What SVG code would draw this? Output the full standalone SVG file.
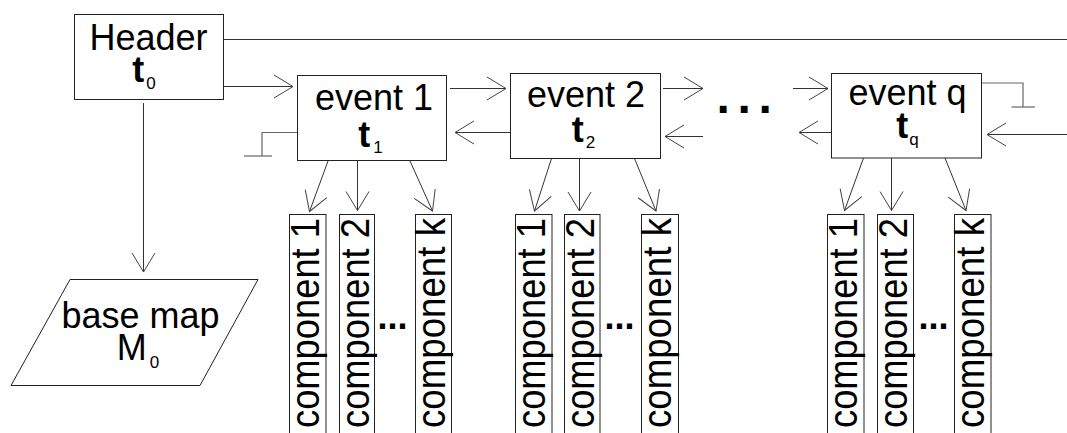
<svg xmlns="http://www.w3.org/2000/svg" width="1067" height="433" viewBox="0 0 1067 433">
<style>
.box{fill:#fff;stroke:#222;stroke-width:1}
.ln{fill:none;stroke:#333;stroke-width:1}
.gnd{fill:none;stroke:#666;stroke-width:1.2}
.t{font-family:"Liberation Sans",Arial,sans-serif;fill:#000}
.big{font-size:36px}
.sub{font-size:17px;font-weight:normal}
.comp{font-family:"Liberation Sans",Arial,sans-serif;font-size:37px;fill:#000}
.dots{font-family:"Liberation Sans",Arial,sans-serif;font-weight:bold;fill:#000}
</style>
<defs>
<marker id="ah" viewBox="-21 -13 23 26" refX="0" refY="0" markerWidth="23" markerHeight="26" markerUnits="userSpaceOnUse" orient="auto">
<path d="M-19,-11.5 L0,0 L-19,11.5" fill="none" stroke="#444" stroke-width="1"/>
</marker>
</defs>
<rect width="1067" height="433" fill="#fff"/>

<g id="connectors">
<line class="ln" x1="223" y1="39.5" x2="1067" y2="39.5"/>
<line class="ln" x1="223" y1="86.5" x2="293" y2="86.5" marker-end="url(#ah)"/>
<line class="ln" x1="143.5" y1="103" x2="143.5" y2="272" marker-end="url(#ah)"/>
<line class="ln" x1="450" y1="88.5" x2="506" y2="88.5" marker-end="url(#ah)"/>
<line class="ln" x1="510" y1="132.5" x2="455" y2="132.5" marker-end="url(#ah)"/>
<line class="ln" x1="663" y1="88.5" x2="703" y2="88.5" marker-end="url(#ah)"/>
<line class="ln" x1="703" y1="136.5" x2="665" y2="136.5" marker-end="url(#ah)"/>
<line class="ln" x1="793" y1="88.5" x2="828" y2="88.5" marker-end="url(#ah)"/>
<line class="ln" x1="831" y1="132.5" x2="799" y2="132.5" marker-end="url(#ah)"/>
<line class="ln" x1="1067" y1="134.5" x2="987" y2="134.5" marker-end="url(#ah)"/>
<polyline class="gnd" points="297.5,132.5 262,132.5 262,156"/>
<line class="gnd" x1="244" y1="156" x2="272" y2="156"/>
<polyline class="gnd" points="982,83 1023,83 1023,107"/>
<line class="gnd" x1="1011.5" y1="107" x2="1035" y2="107"/>
<line class="ln" x1="328" y1="161" x2="309.5" y2="211.5" marker-end="url(#ah)"/>
<line class="ln" x1="357.5" y1="161" x2="357.5" y2="210.5" marker-end="url(#ah)"/>
<line class="ln" x1="410" y1="161" x2="432.5" y2="211" marker-end="url(#ah)"/>
<line class="ln" x1="551.5" y1="158.5" x2="534.5" y2="211" marker-end="url(#ah)"/>
<line class="ln" x1="579.5" y1="158.5" x2="579.5" y2="211" marker-end="url(#ah)"/>
<line class="ln" x1="634.5" y1="158.5" x2="656" y2="211" marker-end="url(#ah)"/>
<line class="ln" x1="863.5" y1="158" x2="844.5" y2="210.5" marker-end="url(#ah)"/>
<line class="ln" x1="891.5" y1="158" x2="891.5" y2="210.5" marker-end="url(#ah)"/>
<line class="ln" x1="945" y1="158" x2="966" y2="210.5" marker-end="url(#ah)"/>
</g>

<g id="header">
<rect class="box" x="74.5" y="14.5" width="149" height="85"/>
<text class="t big" x="148.5" y="50" text-anchor="middle">Header</text>
<text class="t big" x="144" y="82" text-anchor="middle"><tspan font-weight="bold">t</tspan><tspan class="sub" dx="2" dy="7">0</tspan></text>
</g>

<g id="basemap">
<polygon class="box" points="70,279.5 258,279.5 200,385.5 11,385.5"/>
<text class="t big" x="140.5" y="328" text-anchor="middle">base map</text>
<text class="t big" x="138" y="360" text-anchor="middle">M<tspan class="sub" dx="3" dy="8">0</tspan></text>
</g>

<g id="event1">
<rect class="box" x="297.5" y="75.5" width="149" height="85"/>
<text class="t big" x="374" y="110" text-anchor="middle">event 1</text>
<text class="t big" x="370.5" y="147" text-anchor="middle"><tspan font-weight="bold">t</tspan><tspan class="sub" dx="3" dy="6">1</tspan></text>
</g>

<g id="event2">
<rect class="box" x="510.5" y="73.5" width="150" height="85"/>
<text class="t big" x="586" y="107" text-anchor="middle">event 2</text>
<text class="t big" x="583.5" y="142" text-anchor="middle"><tspan font-weight="bold">t</tspan><tspan class="sub" dx="2" dy="6">2</tspan></text>
</g>

<g id="eventq">
<rect class="box" x="831.5" y="73.5" width="150" height="84.5"/>
<text class="t big" x="907.5" y="105" text-anchor="middle">event q</text>
<text class="t big" x="907.5" y="137.5" text-anchor="middle"><tspan font-weight="bold">t</tspan><tspan class="sub" dx="1" dy="7">q</tspan></text>
</g>

<g id="ellipsis-top">
<text class="dots" x="716.5" y="113" font-size="48" letter-spacing="7.7">...</text>
</g>

<g id="e1-components">
<rect class="box" x="289.5" y="214.5" width="36.5" height="230"/>
<text class="comp" transform="translate(319,428) rotate(-90) scale(1,1.1)" textLength="210" lengthAdjust="spacingAndGlyphs">component 1</text>
<rect class="box" x="339.5" y="214.5" width="35" height="230"/>
<text class="comp" transform="translate(368.5,428) rotate(-90) scale(1,1.1)" textLength="210" lengthAdjust="spacingAndGlyphs">component 2</text>
<text class="dots" x="377.5" y="329" font-size="36">...</text>
<rect class="box" x="415.5" y="214.5" width="36" height="230"/>
<text class="comp" transform="translate(445,428) rotate(-90) scale(1,1.1)" textLength="210" lengthAdjust="spacingAndGlyphs">component k</text>
</g>

<g id="e2-components">
<rect class="box" x="515.5" y="214.5" width="36.5" height="230"/>
<text class="comp" transform="translate(545,428) rotate(-90) scale(1,1.1)" textLength="210" lengthAdjust="spacingAndGlyphs">component 1</text>
<rect class="box" x="564.5" y="214.5" width="35.5" height="230"/>
<text class="comp" transform="translate(594,428) rotate(-90) scale(1,1.1)" textLength="210" lengthAdjust="spacingAndGlyphs">component 2</text>
<text class="dots" x="604.5" y="329" font-size="36">...</text>
<rect class="box" x="641.5" y="214.5" width="37" height="230"/>
<text class="comp" transform="translate(671,428) rotate(-90) scale(1,1.1)" textLength="210" lengthAdjust="spacingAndGlyphs">component k</text>
</g>

<g id="eq-components">
<rect class="box" x="827.5" y="214.5" width="36.5" height="230"/>
<text class="comp" transform="translate(857,428) rotate(-90) scale(1,1.1)" textLength="210" lengthAdjust="spacingAndGlyphs">component 1</text>
<rect class="box" x="877.5" y="214.5" width="36" height="230"/>
<text class="comp" transform="translate(907,428) rotate(-90) scale(1,1.1)" textLength="210" lengthAdjust="spacingAndGlyphs">component 2</text>
<text class="dots" x="918.5" y="329" font-size="36">...</text>
<rect class="box" x="954.5" y="214.5" width="36.5" height="230"/>
<text class="comp" transform="translate(984,428) rotate(-90) scale(1,1.1)" textLength="210" lengthAdjust="spacingAndGlyphs">component k</text>
</g>
</svg>
